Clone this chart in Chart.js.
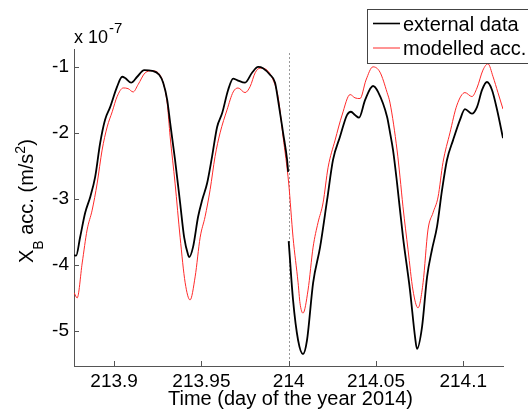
<!DOCTYPE html>
<html>
<head>
<meta charset="utf-8">
<script src="https://cdn.jsdelivr.net/npm/chart.js@4/dist/chart.umd.min.js"></script>
<style>
  body { margin: 0; background: #fff; }
  canvas { display: block; }
</style>
</head>
<body>
<canvas id="myChart" width="528" height="414"></canvas>
<script>
// values (acc. in units of 1e-7 m/s^2)
const blackT = [213.8771, 213.8782, 213.8805, 213.8834, 213.8863, 213.8891, 213.8920, 213.8948, 213.8977, 213.9017,
  213.9046, 213.9063, 213.9097, 213.9132, 213.9172, 213.9218, 213.9258, 213.9281, 213.9304, 213.9321,
  213.9349, 213.9378, 213.9401, 213.9424, 213.9430, 213.9452, 213.9481, 213.9504, 213.9533, 213.9561,
  213.9590, 213.9619, 213.9653, 213.9682, 213.9704, 213.9750, 213.9790, 213.9825, 213.9853, 213.9893,
  213.9922, 213.9939, 213.9968, 213.9991, 213.9997, 213.9999, 214.0000, 214.0025, 214.0054, 214.0082,
  214.0105, 214.0140, 214.0180, 214.0220, 214.0254, 214.0294, 214.0334, 214.0357, 214.0380, 214.0403,
  214.0438, 214.0483, 214.0512, 214.0564, 214.0581, 214.0598, 214.0621, 214.0655, 214.0695, 214.0724,
  214.0735, 214.0764, 214.0793, 214.0821, 214.0850, 214.0879, 214.0907, 214.0942, 214.0982, 214.1010,
  214.1050, 214.1079, 214.1108, 214.1136, 214.1165, 214.1194, 214.1228];
const blackV = [-3.85, -3.86, -3.58, -3.21, -2.97, -2.67, -2.15, -1.80, -1.61, -1.30,
  -1.15, -1.17, -1.24, -1.15, -1.05, -1.06, -1.12, -1.24, -1.50, -1.85,
  -2.41, -3.06, -3.58, -3.85, -3.88, -3.73, -3.27, -3.02, -2.76, -2.36,
  -1.91, -1.70, -1.35, -1.18, -1.20, -1.24, -1.09, -1.00, -1.02, -1.12,
  -1.24, -1.50, -2.00, -2.41, -2.59, null, -3.64, -4.53, -5.14, -5.35,
  -5.14, -4.27, -3.73, -3.02, -2.41, -2.06, -1.73, -1.68, -1.73, -1.77,
  -1.50, -1.29, -1.38, -1.76, -2.00, -2.26, -2.76, -3.58, -4.38, -5.09,
  -5.27, -4.94, -4.18, -3.77, -3.42, -2.86, -2.41, -2.11, -1.80, -1.64,
  -1.71, -1.61, -1.35, -1.23, -1.35, -1.65, -2.08];

const redT = [213.8771, 213.8788, 213.8817, 213.8845, 213.8874, 213.8903, 213.8931, 213.8960, 213.8989, 213.9017,
  213.9052, 213.9080, 213.9109, 213.9137, 213.9178, 213.9218, 213.9252, 213.9281, 213.9304, 213.9321,
  213.9349, 213.9378, 213.9407, 213.9435, 213.9464, 213.9493, 213.9521, 213.9550, 213.9578, 213.9607,
  213.9647, 213.9682, 213.9710, 213.9750, 213.9779, 213.9808, 213.9836, 213.9876, 213.9911, 213.9939,
  213.9968, 214.0000, 214.0025, 214.0054, 214.0065, 214.0082, 214.0111, 214.0140, 214.0168, 214.0197,
  214.0226, 214.0266, 214.0306, 214.0352, 214.0380, 214.0409, 214.0443, 214.0483, 214.0523, 214.0564,
  214.0581, 214.0621, 214.0638, 214.0655, 214.0684, 214.0712, 214.0741, 214.0770, 214.0798, 214.0827,
  214.0856, 214.0884, 214.0924, 214.0964, 214.1010, 214.1050, 214.1079, 214.1113, 214.1142, 214.1171,
  214.1199, 214.1228];
const redV = [-4.42, -4.50, -3.97, -3.47, -3.17, -2.76, -2.26, -1.91, -1.68, -1.45,
  -1.32, -1.33, -1.38, -1.27, -1.09, -1.06, -1.09, -1.24, -1.55, -2.06,
  -2.76, -3.58, -4.27, -4.53, -4.18, -3.58, -3.27, -2.86, -2.36, -2.00,
  -1.65, -1.38, -1.32, -1.39, -1.30, -1.09, -1.02, -1.05, -1.20, -1.45,
  -2.06, -2.76, -3.58, -4.27, -4.58, -4.73, -4.38, -3.73, -3.36, -3.06,
  -2.52, -2.11, -1.73, -1.42, -1.47, -1.48, -1.20, -1.00, -1.08, -1.39,
  -1.55, -2.26, -2.67, -3.12, -3.77, -4.38, -4.65, -4.27, -3.47, -3.21,
  -2.97, -2.45, -2.00, -1.58, -1.39, -1.45, -1.32, -1.05, -0.955, -1.15,
  -1.39, -1.64];

const xTicks = [213.9, 213.95, 214, 214.05, 214.1];
const xTickLabels = ['213.9', '213.95', '214', '214.05', '214.1'];
const yTicks = [-5, -4, -3, -2, -1];
const yTickLabels = ['-5', '-4', '-3', '-2', '-1'];
const splitDay = 214;

const FONT = "'Liberation Sans', Arial, sans-serif";
const AXIS_COLOR = '#555';

function toPoints(ts, vs) {
    return ts.map((t, i) => ({x: t, y: vs[i]}));
}

// titles, exponent, inward ticks, dashed line and boxed legend
const matlabLook = {
    id: 'matlabLook',
    beforeDatasetsDraw(chart) {
        const ctx = chart.ctx;
        const a = chart.chartArea;
        const px = chart.scales.x.getPixelForValue(splitDay);
        ctx.save();
        ctx.strokeStyle = '#999';
        ctx.lineWidth = 1;
        ctx.setLineDash([2, 2]);
        ctx.beginPath();
        ctx.moveTo(Math.round(px) + 0.5, a.top + 4);
        ctx.lineTo(Math.round(px) + 0.5, a.bottom);
        ctx.stroke();
        ctx.restore();
    },
    afterDraw(chart) {
        const ctx = chart.ctx;
        const a = chart.chartArea;
        const xs = chart.scales.x, ys = chart.scales.y;
        ctx.save();

        // inward ticks
        ctx.strokeStyle = AXIS_COLOR;
        ctx.lineWidth = 1;
        ctx.beginPath();
        xTicks.forEach(v => {
            const p = Math.round(xs.getPixelForValue(v)) + 0.5;
            ctx.moveTo(p, a.bottom);
            ctx.lineTo(p, a.bottom - 5);
        });
        yTicks.forEach(v => {
            const p = Math.round(ys.getPixelForValue(v)) + 0.5;
            ctx.moveTo(a.left, p);
            ctx.lineTo(a.left + 5, p);
        });
        ctx.stroke();

        ctx.fillStyle = '#000';
        ctx.textBaseline = 'alphabetic';

        // x title
        ctx.font = '20px ' + FONT;
        ctx.textAlign = 'center';
        ctx.fillText('Time (day of the year 2014)', (a.left + a.right) / 2 + 2, 405);

        // exponent label
        ctx.textAlign = 'left';
        ctx.font = '18px ' + FONT;
        ctx.fillText('x 10', a.left, 43);
        const w10 = ctx.measureText('x 10').width;
        ctx.font = '15px ' + FONT;
        ctx.fillText('-7', a.left + w10 + 1, 33);

        // y title with sub/superscript
        ctx.save();
        ctx.translate(33, 263);
        ctx.rotate(-Math.PI / 2);
        let x = 0;
        const parts = [['X', 20, 0], ['B', 14, 10], [' acc. (m/s', 20, 0], ['2', 14, -8], [')', 20, 0]];
        parts.forEach(p => {
            ctx.font = p[1] + 'px ' + FONT;
            ctx.fillText(p[0], x, p[2]);
            x += ctx.measureText(p[0]).width;
        });
        ctx.restore();

        // legend box
        ctx.fillStyle = '#fff';
        ctx.fillRect(367, 9, 170, 54);
        ctx.strokeStyle = '#444';
        ctx.lineWidth = 1;
        ctx.strokeRect(367.5, 9.5, 170, 54);
        chart.data.datasets.forEach((ds, i) => {
            const y = 23.5 + i * 24.5;
            ctx.strokeStyle = ds.borderColor;
            ctx.lineWidth = i === 0 ? 1.6 : 1;
            ctx.beginPath();
            ctx.moveTo(373, y);
            ctx.lineTo(400, y);
            ctx.stroke();
            ctx.fillStyle = '#000';
            ctx.font = '20px ' + FONT;
            ctx.fillText(ds.label, 403, 30.5 + i * 24.5);
        });
        ctx.restore();
    }
};

const ctx = document.getElementById('myChart').getContext('2d');

const myChart = new Chart(ctx, {
    type: 'line',
    data: {
        datasets: [{
            label: 'external data',
            data: toPoints(blackT, blackV),
            borderColor: '#000000',
            borderWidth: 1.8,
            pointRadius: 0,
            cubicInterpolationMode: 'monotone',
            spanGaps: false,
        }, {
            label: 'modelled acc.',
            data: toPoints(redT, redV),
            borderColor: '#ff2a2a',
            borderWidth: 1,
            pointRadius: 0,
            cubicInterpolationMode: 'monotone',
        }],
    },
    options: {
        responsive: false,
        animation: false,
        events: [],
        layout: {padding: {left: 0, top: 49, right: 25, bottom: 0}},
        plugins: {
            legend: {display: false},
            tooltip: {enabled: false},
        },
        scales: {
            x: {
                type: 'linear',
                min: 213.877,
                max: 214.1228,
                afterBuildTicks: s => { s.ticks = xTicks.map(v => ({value: v})); },
                afterFit: s => { s.height = 48; },
                grid: {display: false, drawTicks: false},
                border: {display: true, color: AXIS_COLOR, width: 1},
                ticks: {
                    autoSkip: false,
                    maxRotation: 0,
                    padding: 4,
                    color: '#000',
                    font: {family: FONT, size: 19},
                    callback: function(value) {
                        const i = xTicks.indexOf(value);
                        return i >= 0 ? xTickLabels[i] : '';
                    }
                }
            },
            y: {
                min: -5.53,
                max: -0.73,
                afterBuildTicks: s => { s.ticks = yTicks.map(v => ({value: v})); },
                afterFit: s => { s.width = 74; },
                grid: {display: false, drawTicks: false},
                border: {display: true, color: AXIS_COLOR, width: 1},
                ticks: {
                    autoSkip: false,
                    padding: 5,
                    color: '#000',
                    font: {family: FONT, size: 19},
                    callback: function(value) {
                        const i = yTicks.indexOf(value);
                        return i >= 0 ? yTickLabels[i] : '';
                    }
                }
            }
        }
    },
    plugins: [matlabLook]
});
</script>
</body>
</html>
